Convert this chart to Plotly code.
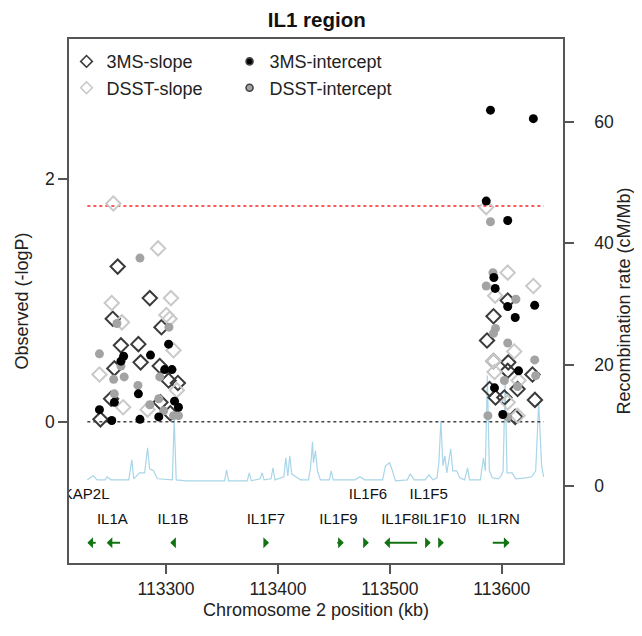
import plotly.graph_objects as go

# ---------------- data ----------------
ms_slope_kb = [113256.8, 113285.5, 113252.4, 113295.9, 113259.7, 113275.3, 113277.3, 113253.8,
               113294.4, 113302.3, 113310.6, 113250.9, 113241.4, 113295.0, 113303.8,
               113605.3, 113592.6, 113586.8, 113592.6, 113605.8, 113605.3, 113627.4, 113589.1,
               113614.1, 113594.4, 113602.3, 113629.6, 113612.0]
ms_slope_p = [1.28, 1.02, 0.85, 0.78, 0.63, 0.64, 0.49, 0.44,
              0.46, 0.34, 0.32, 0.19, 0.02, 0.16, 0.07,
              1.00, 0.87, 0.67, 0.50, 0.49, 0.42, 0.39, 0.27,
              0.27, 0.20, 0.20, 0.18, 0.04]

dsst_slope_kb = [113252.9, 113292.9, 113251.5, 113304.4, 113300.3, 113303.2, 113260.6, 113240.5,
                 113306.7, 113309.7, 113261.7, 113283.5,
                 113586.1, 113605.3, 113628.2, 113594.1, 113611.1, 113593.5, 113615.0, 113605.3,
                 113614.1, 113592.6]
dsst_slope_p = [1.80, 1.43, 0.98, 1.02, 0.88, 0.85, 0.82, 0.39,
                0.59, 0.26, 0.12, 0.10,
                1.77, 1.23, 1.12, 1.04, 0.58, 0.41, 0.34, 0.16,
                0.05, 0.50]

ms_int_kb = [113302.3, 113262.1, 113259.7, 113286.1, 113298.8, 113305.3, 113275.3, 113240.5,
             113253.8, 113251.5, 113276.7, 113293.5, 113307.6, 113311.1,
             113589.9, 113628.2, 113586.1, 113605.3, 113592.9, 113594.1, 113605.3, 113629.4,
             113612.0, 113615.0, 113593.5, 113600.9]
ms_int_p = [0.64, 0.54, 0.50, 0.55, 0.43, 0.43, 0.23, 0.10,
            0.16, 0.01, 0.02, 0.04, 0.17, 0.12,
            2.57, 2.50, 1.82, 1.66, 1.19, 1.10, 0.95, 0.96,
            0.86, 0.42, 0.28, 0.06]

dsst_int_kb = [113276.7, 113256.1, 113302.6, 113240.5, 113253.2, 113262.6, 113259.7, 113274.9,
               113294.4, 113253.8, 113285.5, 113293.5, 113297.9, 113306.7, 113311.1,
               113589.9, 113592.1, 113586.1, 113612.6, 113594.4, 113592.6, 113605.3, 113629.4,
               113630.3, 113602.3, 113614.1, 113587.6, 113605.3]
dsst_int_p = [1.35, 0.81, 0.78, 0.56, 0.35, 0.37, 0.46, 0.30,
              0.37, 0.23, 0.14, 0.19, 0.09, 0.05, 0.05,
              1.65, 1.23, 1.12, 1.01, 0.77, 0.73, 0.65, 0.51,
              0.38, 0.34, 0.29, 0.05, 0.04]

recomb_kb = [113229.7, 113235.0, 113238.5, 113245.6, 113247.3, 113250.9, 113266.7, 113269.4,
             113271.1, 113276.4, 113280.9, 113283.5, 113285.3, 113288.8, 113292.3, 113305.6,
             113307.3, 113309.1, 113317.9, 113352.3, 113354.1, 113355.8, 113372.6, 113374.4,
             113376.2, 113384.1, 113385.9, 113387.6, 113393.8, 113395.6, 113397.3, 113405.3,
             113407.0, 113408.8, 113410.6, 113412.3, 113415.9, 113420.3, 113427.3, 113429.1,
             113430.9, 113431.7, 113433.5, 113435.3, 113437.9, 113445.9, 113447.6, 113449.4,
             113468.8, 113473.2, 113477.6, 113493.5, 113496.1, 113499.7, 113502.3, 113505.0,
             113515.6, 113518.2, 113521.8, 113531.5, 113535.0, 113538.5, 113542.1, 113543.8,
             113545.6, 113547.4, 113549.1, 113550.9, 113554.4, 113556.2, 113559.7, 113562.4,
             113566.8, 113569.4, 113571.2, 113580.9, 113583.6, 113585.3, 113587.1, 113588.9,
             113591.5, 113596.8, 113599.4, 113601.2, 113603.0, 113604.7, 113609.1, 113612.7,
             113621.5, 113626.8, 113630.3, 113633.0, 113635.6, 113637.4]
recomb_rate = [0.99, 1.65, 0.99, 0.99, 1.49, 0.99, 0.99, 4.29,
               1.16, 2.15, 2.15, 6.28, 2.81, 2.48, 1.16, 0.99,
               11.07, 0.99, 0.83, 0.83, 2.64, 0.83, 0.83, 2.15,
               0.83, 1.16, 2.15, 0.99, 1.16, 2.97, 0.99, 1.49,
               4.62, 1.65, 4.95, 1.98, 1.49, 0.99, 0.99, 2.97,
               7.27, 3.80, 5.78, 2.48, 0.99, 0.99, 2.48, 0.99,
               0.99, 1.49, 0.99, 0.99, 3.30, 3.80, 2.48, 0.83,
               0.99, 1.98, 0.99, 0.99, 1.82, 0.99, 1.32, 3.80,
               10.74, 3.30, 4.95, 2.15, 6.11, 2.48, 2.48, 1.32,
               0.99, 2.97, 0.99, 0.99, 4.62, 2.48, 18.17, 2.48,
               1.32, 1.16, 1.65, 2.48, 17.34, 2.15, 2.15, 1.16,
               1.32, 1.49, 2.48, 13.71, 3.30, 1.49]

threshold_values = [1.78, 0.0]

gene_names = ["CKAP2L", "IL1A", "IL1B", "IL1F7", "IL1F9", "IL1F6", "IL1F8", "IL1F5", "IL1F10", "IL1RN"]
gene_start = [113229.7, 113247.0, 113303.8, 113386.7, 113451.7, 113475.9, 113495.0, 113532.2, 113543.8, 113590.6]
gene_end = [113238.5, 113260.3, 113309.1, 113392.0, 113458.8, 113481.2, 113525.6, 113536.5, 113548.2, 113606.9]
gene_strand = [-1, -1, -1, 1, 1, 1, -1, 1, 1, 1]
gene_label_x = [113223.8, 113252.0, 113306.2, 113389.2, 113454.1, 113480.5, 113509.4, 113534.7, 113547.3, 113597.2]
gene_label_row = [1, 2, 2, 2, 2, 1, 2, 1, 2, 2]

x_ticks = [113300, 113400, 113500, 113600]
y_ticks = [0, 2]
rate_ticks = [0, 20, 40, 60]

# ---------------- style ----------------
FONT = "Liberation Sans, Arial, sans-serif"
row_y = {1: -0.605, 2: -0.815}
arrow_y = -0.998
green = "#127312"
C_MS_SLOPE, C_DSST_SLOPE, C_MS_INT, C_DSST_INT = "#3a3a3a", "#c9c9c9", "#000000", "#a3a3a3"

fig = go.Figure()

# recombination rate (main y axis, drawn underneath)
fig.add_trace(go.Scatter(x=recomb_kb, y=recomb_rate, mode="lines", yaxis="y", xaxis="x",
                         line=dict(color="#a9d6e8", width=1.2), showlegend=False, hoverinfo="skip"))

# threshold lines
xmin, xmax = min(recomb_kb), max(recomb_kb)
for val, col in zip(threshold_values, ["#ff2020", "#444444"]):
    fig.add_trace(go.Scatter(x=[xmin, xmax], y=[val, val], mode="lines", yaxis="y2",
                             line=dict(color=col, width=1.6, dash="dot"), showlegend=False,
                             hoverinfo="skip"))

# points
fig.add_trace(go.Scatter(x=ms_slope_kb, y=ms_slope_p, mode="markers", yaxis="y2", showlegend=False,
                         marker=dict(symbol="diamond-open", size=11, color=C_MS_SLOPE, line=dict(width=2))))
fig.add_trace(go.Scatter(x=dsst_slope_kb, y=dsst_slope_p, mode="markers", yaxis="y2", showlegend=False,
                         marker=dict(symbol="diamond-open", size=11, color=C_DSST_SLOPE, line=dict(width=2))))
fig.add_trace(go.Scatter(x=dsst_int_kb, y=dsst_int_p, mode="markers", yaxis="y2", showlegend=False,
                         marker=dict(symbol="circle", size=9, color=C_DSST_INT)))
fig.add_trace(go.Scatter(x=ms_int_kb, y=ms_int_p, mode="markers", yaxis="y2", showlegend=False,
                         marker=dict(symbol="circle", size=9, color=C_MS_INT)))

# legend entries (smaller symbols, as in the reference legend)
for name, sym, col, sz, lg in [("3MS-slope", "diamond-open", C_MS_SLOPE, 9, "legend"),
                               ("DSST-slope", "diamond-open", C_DSST_SLOPE, 9, "legend"),
                               ("3MS-intercept", "circle", C_MS_INT, 7, "legend2"),
                               ("DSST-intercept", "circle", C_DSST_INT, 7, "legend2")]:
    fig.add_trace(go.Scatter(x=[None], y=[None], mode="markers", name=name, yaxis="y2", legend=lg,
                             marker=dict(symbol=sym, size=sz, color=col, line=dict(width=1.6))))

# gene labels (clipped to the plot area)
fig.add_trace(go.Scatter(x=gene_label_x, y=[row_y[r] for r in gene_label_row], mode="text",
                         text=gene_names, yaxis="y2", cliponaxis=True,
                         textfont=dict(family=FONT, size=15, color="#111111"),
                         showlegend=False, hoverinfo="skip"))

# gene arrows
annotations = []
for s, e, st in zip(gene_start, gene_end, gene_strand):
    tip, tail = (e, s) if st > 0 else (s, e)
    annotations.append(dict(x=tip, y=arrow_y, ax=tail, ay=arrow_y, xref="x", yref="y2",
                            axref="x", ayref="y2", text="", showarrow=True,
                            arrowhead=1, arrowsize=0.85, arrowwidth=2.2, arrowcolor=green,
                            standoff=0, startstandoff=0))

axis_common = dict(showgrid=False, zeroline=False, showline=True, linecolor="#555555", linewidth=1.5,
                   ticks="outside", ticklen=9, tickwidth=1.5, tickcolor="#555555",
                   tickfont=dict(family=FONT, size=17.5, color="#222222"))
title_font = dict(family=FONT, size=18, color="#222222")

# the page body adds an 8px margin, so the figure is 8px smaller than the window
fig.update_layout(
    width=634, height=628,
    margin=dict(l=60, r=74, t=31, b=73),
    paper_bgcolor="white", plot_bgcolor="white",
    font=dict(family=FONT, size=17, color="#222222"),
    title=dict(text="<b>IL1 region</b>", x=0.487, xanchor="center", y=0.981, yanchor="middle",
               font=dict(family=FONT, size=20.5, color="#111111")),
    xaxis=dict(range=[113213.3, 113654.7], tickvals=x_ticks, ticktext=[str(v) for v in x_ticks],
               mirror=True, title=dict(text="Chromosome 2 position (kb)", standoff=6, font=title_font),
               **axis_common),
    yaxis=dict(range=[-12.72, 73.66], tickvals=rate_ticks, side="right",
               ticklabelstandoff=17,
               title=dict(text="Recombination rate (cM/Mb)", standoff=3, font=title_font),
               **axis_common),
    yaxis2=dict(range=[-1.165, 3.157], tickvals=y_ticks, side="left", overlaying="y",
                title=dict(text="Observed (-logP)", standoff=12, font=title_font),
                **axis_common),
    legend=dict(x=-0.005, y=0.992, xanchor="left", yanchor="top", bgcolor="rgba(0,0,0,0)",
                font=dict(family=FONT, size=18, color="#222222")),
    legend2=dict(x=0.325, y=0.992, xanchor="left", yanchor="top", bgcolor="rgba(0,0,0,0)",
                 font=dict(family=FONT, size=18, color="#222222")),
    annotations=annotations,
    showlegend=True,
)

fig.write_html("out.html")
